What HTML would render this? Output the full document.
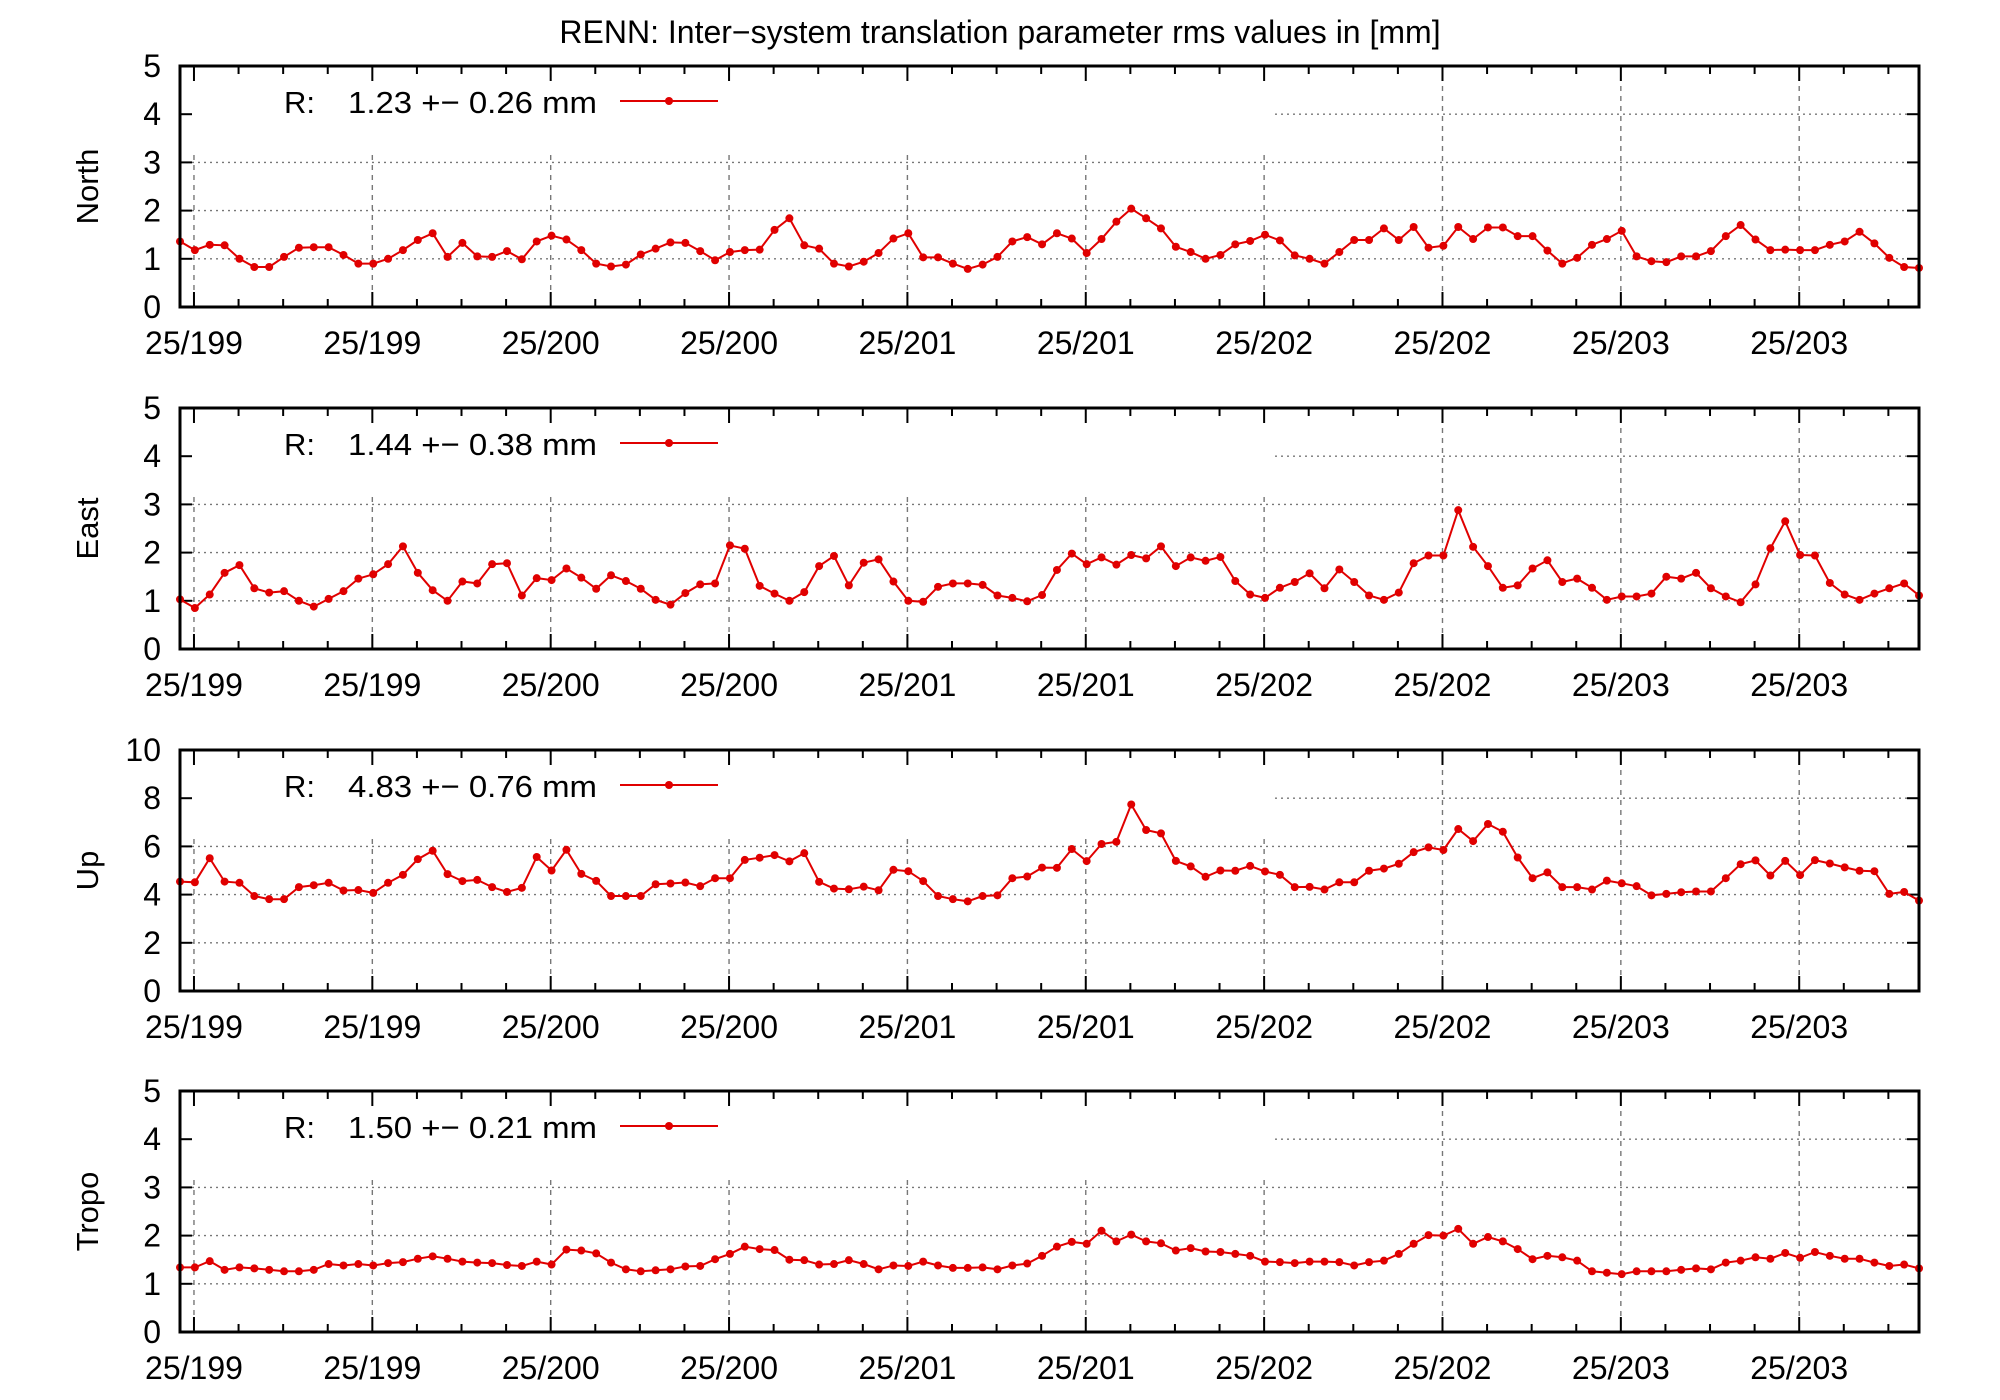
<!DOCTYPE html>
<html><head><meta charset="utf-8"><title>RENN inter-system translation rms</title>
<style>
html,body{margin:0;padding:0;background:#fff;}
svg{display:block;font-family:"Liberation Sans",Arial,sans-serif;}
</style></head>
<body>
<svg id="chart" width="2000" height="1400" viewBox="0 0 2000 1400" xmlns="http://www.w3.org/2000/svg">
<text x="1000" y="43" font-size="32" text-anchor="middle" fill="#000">RENN: Inter−system translation parameter rms values in [mm]</text>
</svg>
<script>
const northValues=[1.36,1.18,1.29,1.28,1.0,0.83,0.83,1.04,1.23,1.24,1.24,1.08,0.9,0.9,1.0,1.18,1.39,1.53,1.04,1.33,1.05,1.04,1.16,0.99,1.36,1.48,1.40,1.18,0.9,0.84,0.88,1.09,1.21,1.34,1.33,1.16,0.97,1.14,1.18,1.19,1.6,1.84,1.28,1.21,0.9,0.84,0.94,1.12,1.42,1.53,1.03,1.03,0.9,0.79,0.88,1.04,1.36,1.45,1.3,
1.53,1.42,1.12,1.41,1.77,2.04,1.84,1.63,1.25,1.14,1.0,1.08,1.3,1.37,1.5,1.38,1.07,1.0,0.9,1.14,1.39,1.39,1.63,1.39,1.66,1.23,1.27,1.66,1.41,1.65,1.65,1.47,1.47,1.17,0.9,1.02,1.29,1.41,1.58,1.05,0.95,0.93,1.05,1.05,1.16,1.47,1.7,1.4,1.18,1.19,1.18,1.18,1.29,1.36,1.56,1.32,1.02,0.83,0.81];
const eastValues=[1.03,0.85,1.13,1.58,1.74,1.26,1.17,1.2,1.0,0.88,1.04,1.2,1.46,1.55,1.76,2.13,1.58,1.22,1.0,1.4,1.36,1.76,1.78,1.11,1.47,1.43,1.67,1.48,1.25,1.53,1.41,1.25,1.02,0.92,1.16,1.34,1.36,2.15,2.08,1.31,1.15,1.0,1.18,1.72,1.93,1.32,1.79,1.86,1.4,1.0,0.98,1.29,1.36,1.36,1.33,1.11,1.06,0.99,1.12,
1.64,1.98,1.76,1.9,1.75,1.95,1.88,2.13,1.72,1.9,1.83,1.91,1.41,1.13,1.06,1.27,1.39,1.57,1.26,1.65,1.39,1.11,1.02,1.17,1.78,1.94,1.94,2.88,2.12,1.72,1.27,1.32,1.67,1.84,1.39,1.46,1.27,1.02,1.09,1.09,1.15,1.5,1.46,1.58,1.26,1.09,0.97,1.34,2.09,2.65,1.95,1.94,1.37,1.13,1.02,1.15,1.26,1.36,1.11];
const upValues=[4.54,4.51,5.51,4.54,4.49,3.94,3.81,3.81,4.31,4.39,4.49,4.17,4.19,4.07,4.49,4.82,5.47,5.82,4.85,4.56,4.61,4.31,4.11,4.28,5.56,5.0,5.86,4.86,4.57,3.94,3.94,3.94,4.43,4.46,4.5,4.35,4.68,4.68,5.44,5.53,5.64,5.38,5.72,4.53,4.25,4.22,4.33,4.18,5.03,4.97,4.56,3.94,3.81,3.72,3.94,3.97,4.68,4.75,5.12,
5.11,5.89,5.39,6.1,6.19,7.74,6.68,6.54,5.4,5.17,4.74,5.0,4.99,5.19,4.96,4.82,4.31,4.32,4.21,4.51,4.51,4.99,5.08,5.28,5.76,5.96,5.85,6.72,6.22,6.93,6.61,5.54,4.68,4.92,4.31,4.31,4.21,4.58,4.47,4.35,3.97,4.03,4.1,4.13,4.13,4.68,5.26,5.42,4.79,5.4,4.81,5.43,5.29,5.13,4.99,4.97,4.03,4.11,3.75];
const tropoValues=[1.34,1.34,1.47,1.29,1.34,1.32,1.29,1.26,1.26,1.29,1.41,1.38,1.41,1.38,1.43,1.45,1.52,1.57,1.52,1.46,1.44,1.43,1.39,1.37,1.46,1.4,1.71,1.69,1.63,1.44,1.3,1.26,1.28,1.3,1.36,1.37,1.51,1.62,1.77,1.72,1.7,1.5,1.49,1.4,1.41,1.49,1.41,1.3,1.38,1.37,1.46,1.38,1.33,1.33,1.34,1.3,1.38,1.42,1.58,
1.77,1.87,1.83,2.1,1.88,2.02,1.88,1.84,1.69,1.74,1.67,1.66,1.62,1.58,1.46,1.45,1.43,1.46,1.46,1.45,1.38,1.45,1.48,1.62,1.83,2.01,2.0,2.14,1.83,1.97,1.88,1.72,1.51,1.58,1.55,1.48,1.26,1.23,1.2,1.26,1.26,1.26,1.29,1.32,1.3,1.44,1.48,1.55,1.52,1.64,1.54,1.66,1.58,1.52,1.52,1.44,1.37,1.4,1.32];
const panelNames=["North","East","Up","Tropo"];
const legendLabels=["1.23 +− 0.26 mm","1.44 +− 0.38 mm","4.83 +− 0.76 mm","1.50 +− 0.21 mm"];
const yMaxes=[5,5,10,5];
const yTickLabels=[[0,1,2,3,4,5],[0,1,2,3,4,5],[0,2,4,6,8,10],[0,1,2,3,4,5]];
const xTickLabels=["25/199","25/199","25/200","25/200","25/201","25/201","25/202","25/202","25/203","25/203"];

const NS="http://www.w3.org/2000/svg";
const svg=document.getElementById("chart");
const L=180,R=1919,PH=241;
const panelTops=[66,408,750,1091];
const series=[northValues,eastValues,upValues,tropoValues];
function mk(tag,attrs,parent){const e=document.createElementNS(NS,tag);for(const k in attrs)e.setAttribute(k,attrs[k]);(parent||svg).appendChild(e);return e;}

series.forEach((vals,p)=>{
  const top=panelTops[p],bot=top+PH,ymax=yMaxes[p];
  const n=vals.length;
  const xs=i=>L+i*(R-L)/(n-1);
  const ys=v=>bot-v/ymax*PH;
  const majorIdx=k=>0.94+12*k*(n-1)/117;
  const g=mk("g",{});
  
  
  yTickLabels[p].forEach((t,j)=>{
    const y=ys(t);
    if(t>0&&t<ymax){
      const x0=(y<top+89)?1275:L;
      const gl=mk("line",{x1:x0,x2:R,y1:y,y2:y,stroke:"#777","stroke-width":1.4,"stroke-dasharray":"2,4"},g);
      
      
    }
    mk("line",{x1:L,x2:L+12,y1:y,y2:y,stroke:"#000","stroke-width":2},g);
    mk("line",{x1:R-12,x2:R,y1:y,y2:y,stroke:"#000","stroke-width":2},g);
    const tl=mk("text",{x:161,y:y+11,"font-size":32,"text-anchor":"end",fill:"#000"},g);
    tl.textContent=t;
    
    
  });
  xTickLabels.forEach((lab,k)=>{
    const x=xs(majorIdx(k));
    const vl=mk("line",{x1:x,x2:x,y1:(x<1275?top+89:top),y2:bot,stroke:"#777","stroke-width":1.4,"stroke-dasharray":"5,5"},g);
    
    
    mk("line",{x1:x,x2:x,y1:bot,y2:bot-15,stroke:"#000","stroke-width":2},g);
    mk("line",{x1:x,x2:x,y1:top,y2:top+15,stroke:"#000","stroke-width":2},g);
    for(let m=1;m<4;m++){
      const xm=xs(majorIdx(k)+m*3*(n-1)/117);
      if(xm<R-2){
        mk("line",{x1:xm,x2:xm,y1:bot,y2:bot-8,stroke:"#000","stroke-width":2},g);
        mk("line",{x1:xm,x2:xm,y1:top,y2:top+8,stroke:"#000","stroke-width":2},g);
      }
    }
    const xl=mk("text",{x:x,y:bot+47,"font-size":32,"text-anchor":"middle",fill:"#000"},g);
    xl.textContent=lab;
    
    
  });
  const pts=vals.map((v,i)=>xs(i).toFixed(1)+","+ys(v).toFixed(1)).join(" ");
  const pl=mk("polyline",{points:pts,fill:"none",stroke:"#e00000","stroke-width":2},g);
  
  
  vals.forEach((v,i)=>{
    const c=mk("circle",{cx:xs(i),cy:ys(v),r:4,fill:"#e00000"},g);
    
    
  });
  const fr=mk("rect",{x:L,y:top,width:R-L,height:PH,fill:"none",stroke:"#000","stroke-width":3},g);
  
  
  const lg=mk("g",{},g);
  
  
  const r1=mk("text",{x:284,y:top+47,"font-size":31,fill:"#000"},lg);
  r1.textContent="R:";
  const r2=mk("text",{x:348,y:top+47,"font-size":31,fill:"#000",textLength:249,lengthAdjust:"spacingAndGlyphs"},lg);
  r2.textContent=legendLabels[p];
  mk("line",{x1:620,x2:718,y1:top+35,y2:top+35,stroke:"#e00000","stroke-width":2},lg);
  mk("circle",{cx:669,cy:top+35,r:4,fill:"#e00000"},lg);
  const yt=mk("text",{x:0,y:0,"font-size":31,"text-anchor":"middle",fill:"#000",transform:"translate(98,"+(top+PH/2)+") rotate(-90)"},g);
  yt.textContent=panelNames[p];
  
  
});
</script>
</body></html>
